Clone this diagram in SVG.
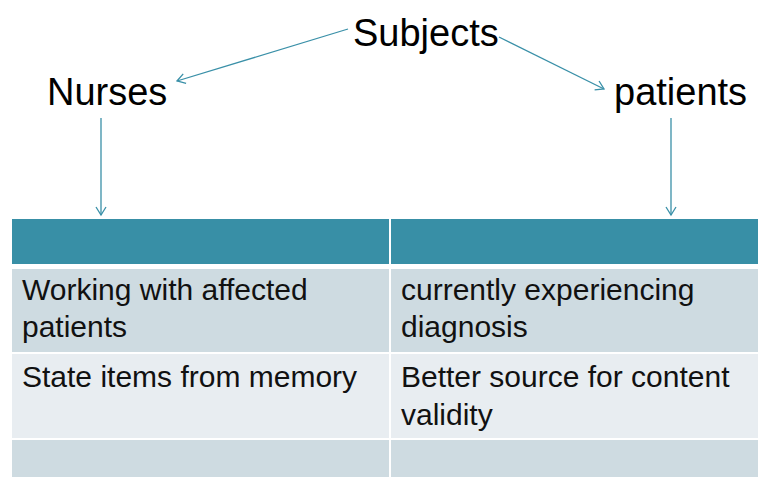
<svg xmlns="http://www.w3.org/2000/svg" width="758" height="477" viewBox="0 0 758 477">
  <style>
    .title { font-family: "Liberation Sans", Arial, sans-serif; font-size: 38px; fill: #000; }
    .cell { font-family: "Liberation Sans", Arial, sans-serif; font-size: 30px; fill: #111; }
    .conn { stroke: #3a90a8; stroke-width: 1.3; fill: none; }
    .hdr { fill: #388fa6; }
    .r1 { fill: #cedbe1; }
    .r2 { fill: #e8edf1; }
  </style>
  <defs>
    <marker id="ah" markerWidth="12" markerHeight="12" refX="10" refY="6" orient="auto" markerUnits="userSpaceOnUse">
      <path d="M2,1 L10,6 L2,11" fill="none" stroke="#3a90a8" stroke-width="1.3"/>
    </marker>
  </defs>
  <rect width="758" height="477" fill="#ffffff"/>

  <g id="subjects"><text class="title" x="353" y="46">Subjects</text></g>
  <g id="nurses"><text class="title" x="47" y="105">Nurses</text></g>
  <g id="patients"><text class="title" x="614" y="105">patients</text></g>

  <g id="connectors">
    <line class="conn" x1="348" y1="29" x2="177" y2="81" marker-end="url(#ah)"/>
    <line class="conn" x1="499" y1="37" x2="604" y2="89" marker-end="url(#ah)"/>
    <line class="conn" x1="101" y1="118" x2="101" y2="215" marker-end="url(#ah)"/>
    <line class="conn" x1="671" y1="118" x2="671" y2="215" marker-end="url(#ah)"/>
  </g>

  <g id="table">
    <rect class="hdr" x="12" y="219" width="377" height="45"/>
    <rect class="hdr" x="391" y="219" width="367" height="45"/>
    <rect class="r1" x="12" y="269" width="377" height="83"/>
    <rect class="r1" x="391" y="269" width="367" height="83"/>
    <rect class="r2" x="12" y="354" width="377" height="84"/>
    <rect class="r2" x="391" y="354" width="367" height="84"/>
    <rect class="r1" x="12" y="440" width="377" height="37"/>
    <rect class="r1" x="391" y="440" width="367" height="37"/>
    <text class="cell" x="22" y="300">Working with affected</text>
    <text class="cell" x="22" y="337">patients</text>
    <text class="cell" x="22" y="387">State items from memory</text>
    <text class="cell" x="401" y="300">currently experiencing</text>
    <text class="cell" x="401" y="337">diagnosis</text>
    <text class="cell" x="401" y="387">Better source for content</text>
    <text class="cell" x="401" y="425">validity</text>
  </g>
</svg>
